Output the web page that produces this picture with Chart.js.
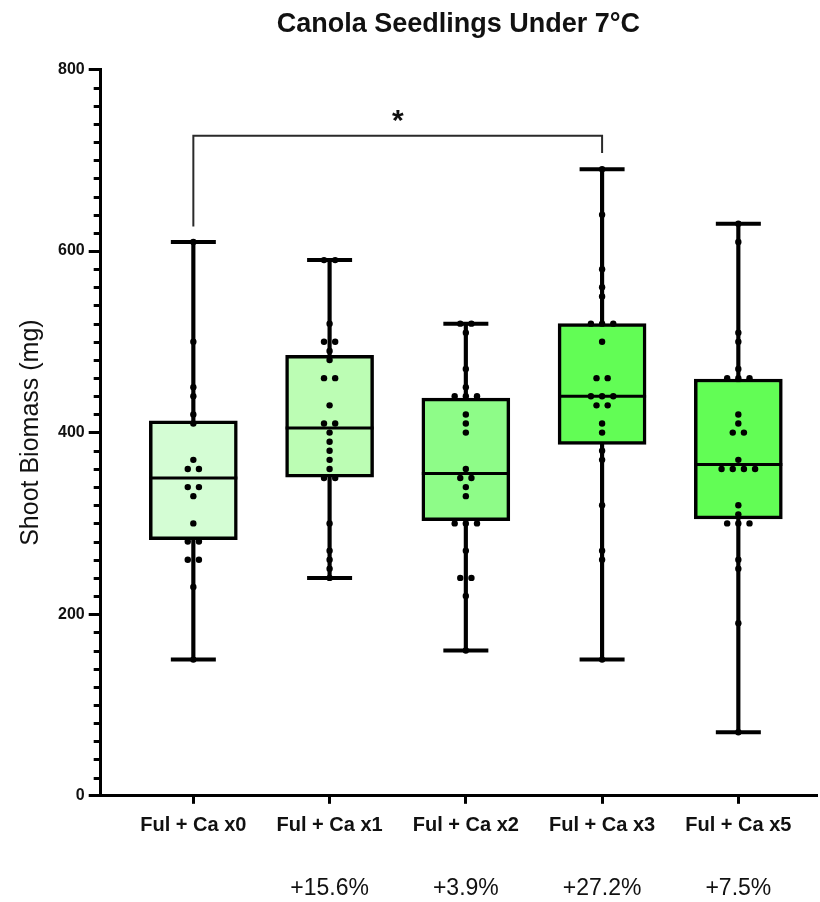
<!DOCTYPE html>
<html>
<head>
<meta charset="utf-8">
<style>
  html, body { margin: 0; padding: 0; background: #ffffff; }
  #wrap { width: 820px; height: 902px; }
</style>
<script src="https://cdn.jsdelivr.net/npm/chart.js@4.4.0/dist/chart.umd.min.js"></script>
</head>
<body>
<div id="wrap"><canvas id="c" width="820" height="902"></canvas></div>
<script>
// ---------------- data ----------------
const categories   = ['Ful + Ca x0', 'Ful + Ca x1', 'Ful + Ca x2', 'Ful + Ca x3', 'Ful + Ca x5'];
const changeLabels = ['', '+15.6%', '+3.9%', '+27.2%', '+7.5%'];

const mins    = [150, 240, 160, 150, 70];
const q1s     = [282, 351, 303, 387, 305];
const medians = [350, 405, 355, 440, 365];
const q3s     = [413, 485, 438, 520, 459];
const maxs    = [610, 590, 520, 690, 630];

const pointsX0 = [610, 500, 450, 440, 420, 410, 370, 360, 360, 340, 340, 330, 300, 280, 280, 260, 260, 230, 150];
const pointsX1 = [590, 590, 520, 500, 500, 490, 480, 460, 460, 430, 410, 410, 400, 390, 380, 370, 360, 350, 350, 300, 270, 260, 250, 240];
const pointsX2 = [520, 520, 510, 470, 450, 440, 440, 440, 420, 410, 400, 360, 350, 350, 340, 330, 300, 300, 300, 270, 240, 240, 220, 160];
const pointsX3 = [690, 640, 580, 560, 550, 520, 520, 520, 500, 460, 460, 440, 440, 440, 430, 430, 410, 400, 380, 370, 320, 270, 260, 150];
const pointsX5 = [630, 610, 510, 500, 470, 460, 460, 460, 420, 410, 400, 400, 370, 360, 360, 360, 360, 320, 310, 300, 300, 300, 260, 250, 190, 70];
const groupPoints = [pointsX0, pointsX1, pointsX2, pointsX3, pointsX5];

const yMin = 0, yMax = 800, yMajorStep = 200, yMinorStep = 20;

// significance bracket (group 0 vs group 3)
const bracketFrom = 0, bracketTo = 3;
const bracketLeftEnd = 627, bracketTop = 727, bracketRightEnd = 708;
const bracketLabel = '*';

// ---------------- styling ----------------
const FONT = '"Liberation Sans", Arial, Helvetica, sans-serif';
const boxColors = ['#d4fdd4', '#bcfdb4', '#8efc88', '#62fd55', '#62fd55'];
const X_MIN = -0.68, X_MAX = 4.57;
const SWARM_STEP = 0.082;

// beeswarm placement of equal values (layout only)
function swarm(values, center) {
  const counts = {}, seen = {};
  values.forEach(v => { counts[v] = (counts[v] || 0) + 1; });
  return values.map(v => {
    seen[v] = (seen[v] === undefined) ? 0 : seen[v] + 1;
    return { x: center + (seen[v] - (counts[v] - 1) / 2) * SWARM_STEP, y: v };
  });
}
const dotData = [];
groupPoints.forEach((vals, i) => swarm(vals, i).forEach(p => dotData.push(p)));

const idx = categories.map((_, i) => i);

// plugin: minor y ticks + significance star
const extras = {
  id: 'extras',
  afterDraw(chart) {
    const ctx = chart.ctx;
    const ys = chart.scales.y, xs = chart.scales.x;
    const axisX = chart.chartArea.left;
    ctx.save();
    ctx.strokeStyle = '#000';
    ctx.lineWidth = 3;
    for (let v = yMin; v <= yMax; v += yMinorStep) {
      if (v % yMajorStep === 0) continue;
      const py = Math.round(ys.getPixelForValue(v)) + 0.5;
      ctx.beginPath();
      ctx.moveTo(axisX - 7, py);
      ctx.lineTo(axisX, py);
      ctx.stroke();
    }
    ctx.fillStyle = '#111';
    ctx.font = 'bold 30px ' + FONT;
    ctx.textAlign = 'center';
    ctx.textBaseline = 'middle';
    ctx.fillText(bracketLabel, xs.getPixelForValue((bracketFrom + bracketTo) / 2), ys.getPixelForValue(bracketTop) - 14);
    ctx.restore();
  }
};

new Chart(document.getElementById('c'), {
  type: 'bar',
  data: {
    datasets: [
      {
        type: 'bar',
        label: 'whiskers',
        data: idx.map(i => ({ x: i, y: [mins[i], maxs[i]] })),
        backgroundColor: '#000',
        borderWidth: 0,
        barThickness: 3.5,
        grouped: false,
        order: 5
      },
      {
        type: 'bar',
        label: 'boxes',
        data: idx.map(i => ({ x: i, y: [q1s[i], q3s[i]] })),
        backgroundColor: boxColors,
        borderColor: '#000',
        borderWidth: 3.5,
        borderSkipped: false,
        barThickness: 88,
        grouped: false,
        order: 4
      },
      {
        type: 'scatter',
        label: 'medians',
        data: idx.map(i => ({ x: i, y: medians[i] })),
        pointStyle: 'line',
        pointRadius: 44,
        pointBorderWidth: 3,
        pointBorderColor: '#000',
        borderColor: '#000',
        order: 3
      },
      {
        type: 'scatter',
        label: 'caps',
        data: idx.map(i => ({ x: i, y: maxs[i] })).concat(idx.map(i => ({ x: i, y: mins[i] }))),
        pointStyle: 'line',
        pointRadius: 22.5,
        pointBorderWidth: 4,
        pointBorderColor: '#000',
        borderColor: '#000',
        order: 3
      },
      {
        type: 'line',
        label: 'bracket',
        data: [
          { x: bracketFrom, y: bracketLeftEnd },
          { x: bracketFrom, y: bracketTop },
          { x: bracketTo, y: bracketTop },
          { x: bracketTo, y: bracketRightEnd }
        ],
        borderColor: '#2a2a2a',
        borderWidth: 2,
        pointRadius: 0,
        fill: false,
        tension: 0,
        order: 2
      },
      {
        type: 'scatter',
        label: 'points',
        data: dotData,
        pointRadius: 3.2,
        pointBackgroundColor: '#000',
        pointBorderWidth: 0,
        backgroundColor: '#000',
        order: 0
      }
    ]
  },
  options: {
    responsive: false,
    animation: false,
    events: [],
    layout: { autoPadding: false, padding: { left: 0, right: 4, top: 0, bottom: 0 } },
    plugins: {
      legend: { display: false },
      tooltip: { enabled: false },
      title: {
        display: true,
        fullSize: false,
        text: 'Canola Seedlings Under 7°C',
        color: '#111',
        font: { family: FONT, size: 27, weight: 'bold', lineHeight: 1.2 },
        padding: { top: 8, bottom: 29 }
      }
    },
    scales: {
      x: {
        type: 'linear',
        position: 'bottom',
        min: X_MIN,
        max: X_MAX,
        offset: false,
        afterBuildTicks: s => { s.ticks = idx.map(i => ({ value: i })); },
        ticks: {
          autoSkip: false,
          maxRotation: 0,
          padding: 10,
          color: '#111',
          font: { family: FONT, size: 20, weight: 'bold', lineHeight: 1.2 },
          callback: v => categories[v]
        },
        grid: {
          display: true,
          drawOnChartArea: false,
          drawTicks: true,
          tickLength: 8,
          lineWidth: 3,
          color: '#000',
          offset: false
        },
        border: { display: true, color: '#000', width: 3 }
      },
      x2: {
        type: 'linear',
        axis: 'x',
        position: 'bottom',
        min: X_MIN,
        max: X_MAX,
        offset: false,
        afterBuildTicks: s => { s.ticks = idx.map(i => ({ value: i })); },
        ticks: {
          autoSkip: false,
          maxRotation: 0,
          padding: 0,
          color: '#111',
          font: { family: FONT, size: 23, lineHeight: 1.178 },
          callback: v => changeLabels[v] ? ['', changeLabels[v]] : ''
        },
        grid: { display: false, drawTicks: false },
        border: { display: false }
      },
      y: {
        type: 'linear',
        position: 'left',
        min: yMin,
        max: yMax,
        ticks: {
          stepSize: yMajorStep,
          padding: 4,
          color: '#111',
          font: { family: FONT, size: 16, weight: 'bold' }
        },
        grid: {
          display: true,
          drawOnChartArea: false,
          drawTicks: true,
          tickLength: 12,
          lineWidth: 3,
          color: '#000'
        },
        border: { display: true, color: '#000', width: 3 },
        title: {
          display: true,
          text: 'Shoot Biomass (mg)',
          color: '#111',
          font: { family: FONT, size: 25, lineHeight: 1.2 },
          padding: { top: 16, bottom: 8 }
        }
      }
    }
  },
  plugins: [extras]
});
</script>
</body>
</html>
